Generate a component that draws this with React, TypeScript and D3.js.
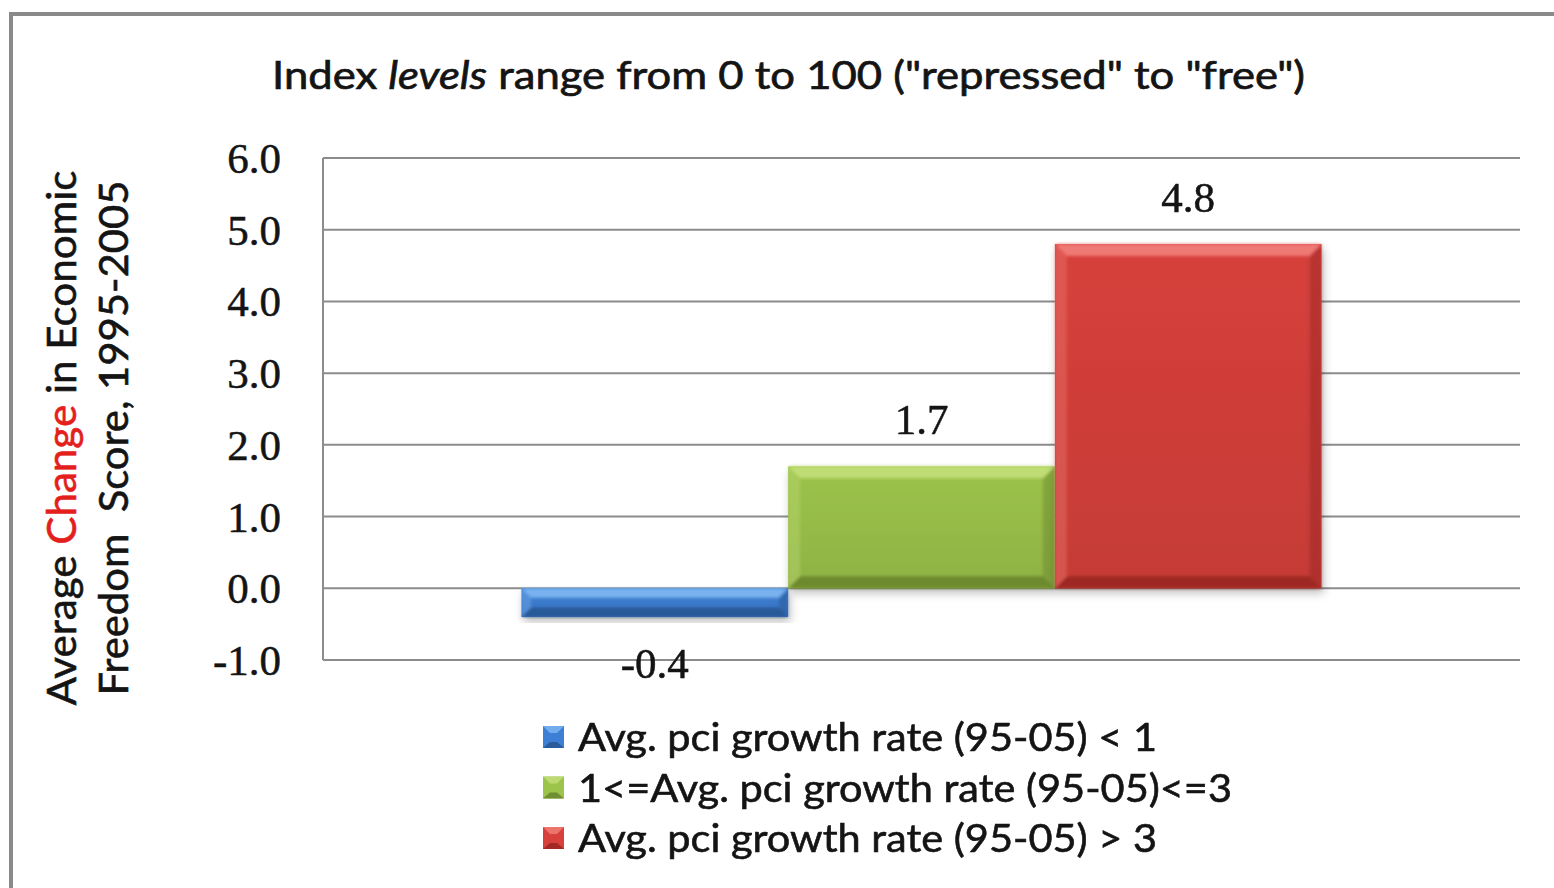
import React from "react";
import * as d3 from "d3";

// Average change in economic freedom score by growth group
const seriesNames = [
  "Avg. pci growth rate (95-05) < 1",
  "1<=Avg. pci growth rate (95-05)<=3",
  "Avg. pci growth rate (95-05) > 3",
];
const seriesValues = [-0.4, 1.7, 4.8];
const seriesColors = [
  { main: "#3d7fd4", light: "#7fb8f2", dark: "#24538f" },
  { main: "#9cc34a", light: "#c4e07a", dark: "#67822c" },
  { main: "#d7403b", light: "#f2807b", dark: "#96231f" },
];
const yTicks = [-1, 0, 1, 2, 3, 4, 5, 6];
const legendWidths = [579, 654, 579];

const W = 1554;
const H = 888;
const plot = { left: 323, right: 1520, top: 158, bottom: 660 };

const locale = d3.formatLocale({
  decimal: ".",
  thousands: ",",
  grouping: [3],
  currency: ["", ""],
  minus: "-",
});

export default function App() {
  const y = d3.scaleLinear().domain([-1, 6]).range([plot.bottom, plot.top]);
  const x = d3
    .scaleBand<number>()
    .domain(d3.range(seriesNames.length))
    .range([plot.left, plot.right])
    .paddingInner(0)
    .paddingOuter(0.744);
  const fmt = locale.format(".1f");
  const serif = "'Liberation Serif', 'Times New Roman', serif";
  const sans = "Lato, 'Open Sans', sans-serif";
  const ink = "#141414";

  const bars = seriesValues.map((v, i) => {
    const bx = x(i)!;
    const bw = x.bandwidth();
    const y0 = y(Math.max(0, v));
    const y1 = y(Math.min(0, v));
    return { v, i, bx, bw, top: y0, h: y1 - y0, c: seriesColors[i] };
  });

  const bevel = (bx: number, top: number, bw: number, h: number) => {
    const b = Math.min(12, h / 3);
    const r = bx + bw;
    const bot = top + h;
    return {
      top: `${bx},${top} ${r},${top} ${r - b},${top + b} ${bx + b},${top + b}`,
      bottom: `${bx},${bot} ${r},${bot} ${r - b},${bot - b} ${bx + b},${bot - b}`,
      left: `${bx},${top} ${bx + b},${top + b} ${bx + b},${bot - b} ${bx},${bot}`,
      right: `${r},${top} ${r - b},${top + b} ${r - b},${bot - b} ${r},${bot}`,
    };
  };

  return (
    <svg
      width={W}
      height={H}
      style={{ position: "absolute", left: 0, top: 0, background: "#fff" }}
    >
      <defs>
        <filter id="shadow" x="-10%" y="-10%" width="120%" height="130%">
          <feGaussianBlur in="SourceAlpha" stdDeviation="5" />
          <feOffset dx="2" dy="5" result="b" />
          <feComponentTransfer>
            <feFuncA type="linear" slope="0.25" />
          </feComponentTransfer>
          <feMerge>
            <feMergeNode />
            <feMergeNode in="SourceGraphic" />
          </feMerge>
        </filter>
        <filter id="soft" x="-5%" y="-5%" width="110%" height="110%">
          <feGaussianBlur stdDeviation="1.5" />
        </filter>
        {seriesColors.map((c, i) => (
          <linearGradient key={i} id={`fill${i}`} x1="0" y1="0" x2="0" y2="1">
            <stop offset="0" stopColor={c.main} />
            <stop offset="1" stopColor={d3.color(c.main)!.darker(0.25).formatHex()} />
          </linearGradient>
        ))}
      </defs>

      {/* outer frame */}
      <rect x={11} y={14} width={1600} height={900} fill="#fff" stroke="#8a8a8a" strokeWidth={4} />

      {/* title */}
      <text
        x={272}
        y={89}
        textLength={1033}
        lengthAdjust="spacingAndGlyphs"
        fontFamily={sans}
        fontSize={39}
        fill={ink}
        stroke={ink}
        strokeWidth={0.7}
      >
        Index <tspan fontStyle="italic">levels</tspan> range from 0 to 100 ("repressed" to "free")
      </text>

      {/* gridlines */}
      {yTicks.map((t) => (
        <line
          key={t}
          x1={plot.left}
          x2={plot.right}
          y1={y(t)}
          y2={y(t)}
          stroke="#8c8c8c"
          strokeWidth={2}
        />
      ))}
      <line x1={plot.left} x2={plot.left} y1={plot.top} y2={plot.bottom} stroke="#8c8c8c" strokeWidth={2} />

      {/* tick labels */}
      {yTicks.map((t) => (
        <text
          key={t}
          x={281}
          y={y(t) + 15}
          textAnchor="end"
          fontFamily={serif}
          fontSize={43}
          fill={ink}
          stroke={ink}
          strokeWidth={0.5}
        >
          {fmt(t)}
        </text>
      ))}

      {/* y-axis title */}
      <g fontFamily={sans} fontSize={41} fill={ink} stroke={ink} strokeWidth={0.6} textAnchor="middle">
        <text transform="translate(76,438) rotate(-90)" textLength={535} lengthAdjust="spacingAndGlyphs">
          Average <tspan fill="#e3201b" stroke="#e3201b">Change</tspan> in Economic
        </text>
        <text
          transform="translate(128,438) rotate(-90)"
          textLength={515}
          lengthAdjust="spacingAndGlyphs"
          style={{ whiteSpace: "pre" }}
        >
          {"Freedom  Score, 1995-2005"}
        </text>
      </g>

      {/* bars */}
      {bars.map((d) => {
        const bv = bevel(d.bx, d.top, d.bw, d.h);
        return (
          <g key={d.i}>
            <rect x={d.bx} y={d.top} width={d.bw} height={d.h} fill={`url(#fill${d.i})`} filter="url(#shadow)" />
            <g filter="url(#soft)">
              <polygon points={bv.left} fill={d.c.light} opacity={0.35} />
              <polygon points={bv.right} fill={d.c.dark} opacity={0.45} />
              <polygon points={bv.top} fill={d.c.light} opacity={0.9} />
              <polygon points={bv.bottom} fill={d.c.dark} opacity={0.85} />
            </g>
          </g>
        );
      })}

      {/* value labels */}
      {bars.map((d) => (
        <text
          key={d.i}
          x={d.bx + d.bw / 2}
          y={d.v >= 0 ? d.top - 32 : d.top + d.h + 61}
          textAnchor="middle"
          fontFamily={serif}
          fontSize={43}
          fill={ink}
          stroke={ink}
          strokeWidth={0.5}
        >
          {fmt(d.v)}
        </text>
      ))}

      {/* legend */}
      {seriesNames.map((name, i) => {
        const cy = 737 + i * 50.5;
        const c = seriesColors[i];
        return (
          <g key={i}>
            <rect x={543} y={cy - 11} width={21} height={22} fill={c.main} />
            <polygon
              points={`${543},${cy - 11} ${564},${cy - 11} ${557},${cy - 4} ${550},${cy - 4}`}
              fill={c.light}
              opacity={0.8}
            />
            <polygon
              points={`${543},${cy + 11} ${564},${cy + 11} ${557},${cy + 5} ${550},${cy + 5}`}
              fill={c.dark}
              opacity={0.8}
            />
            <text
              x={578}
              y={cy + 14}
              textLength={legendWidths[i]}
              lengthAdjust="spacingAndGlyphs"
              fontFamily={sans}
              fontSize={39}
              fill={ink}
              stroke={ink}
              strokeWidth={0.6}
            >
              {name}
            </text>
          </g>
        );
      })}
    </svg>
  );
}
